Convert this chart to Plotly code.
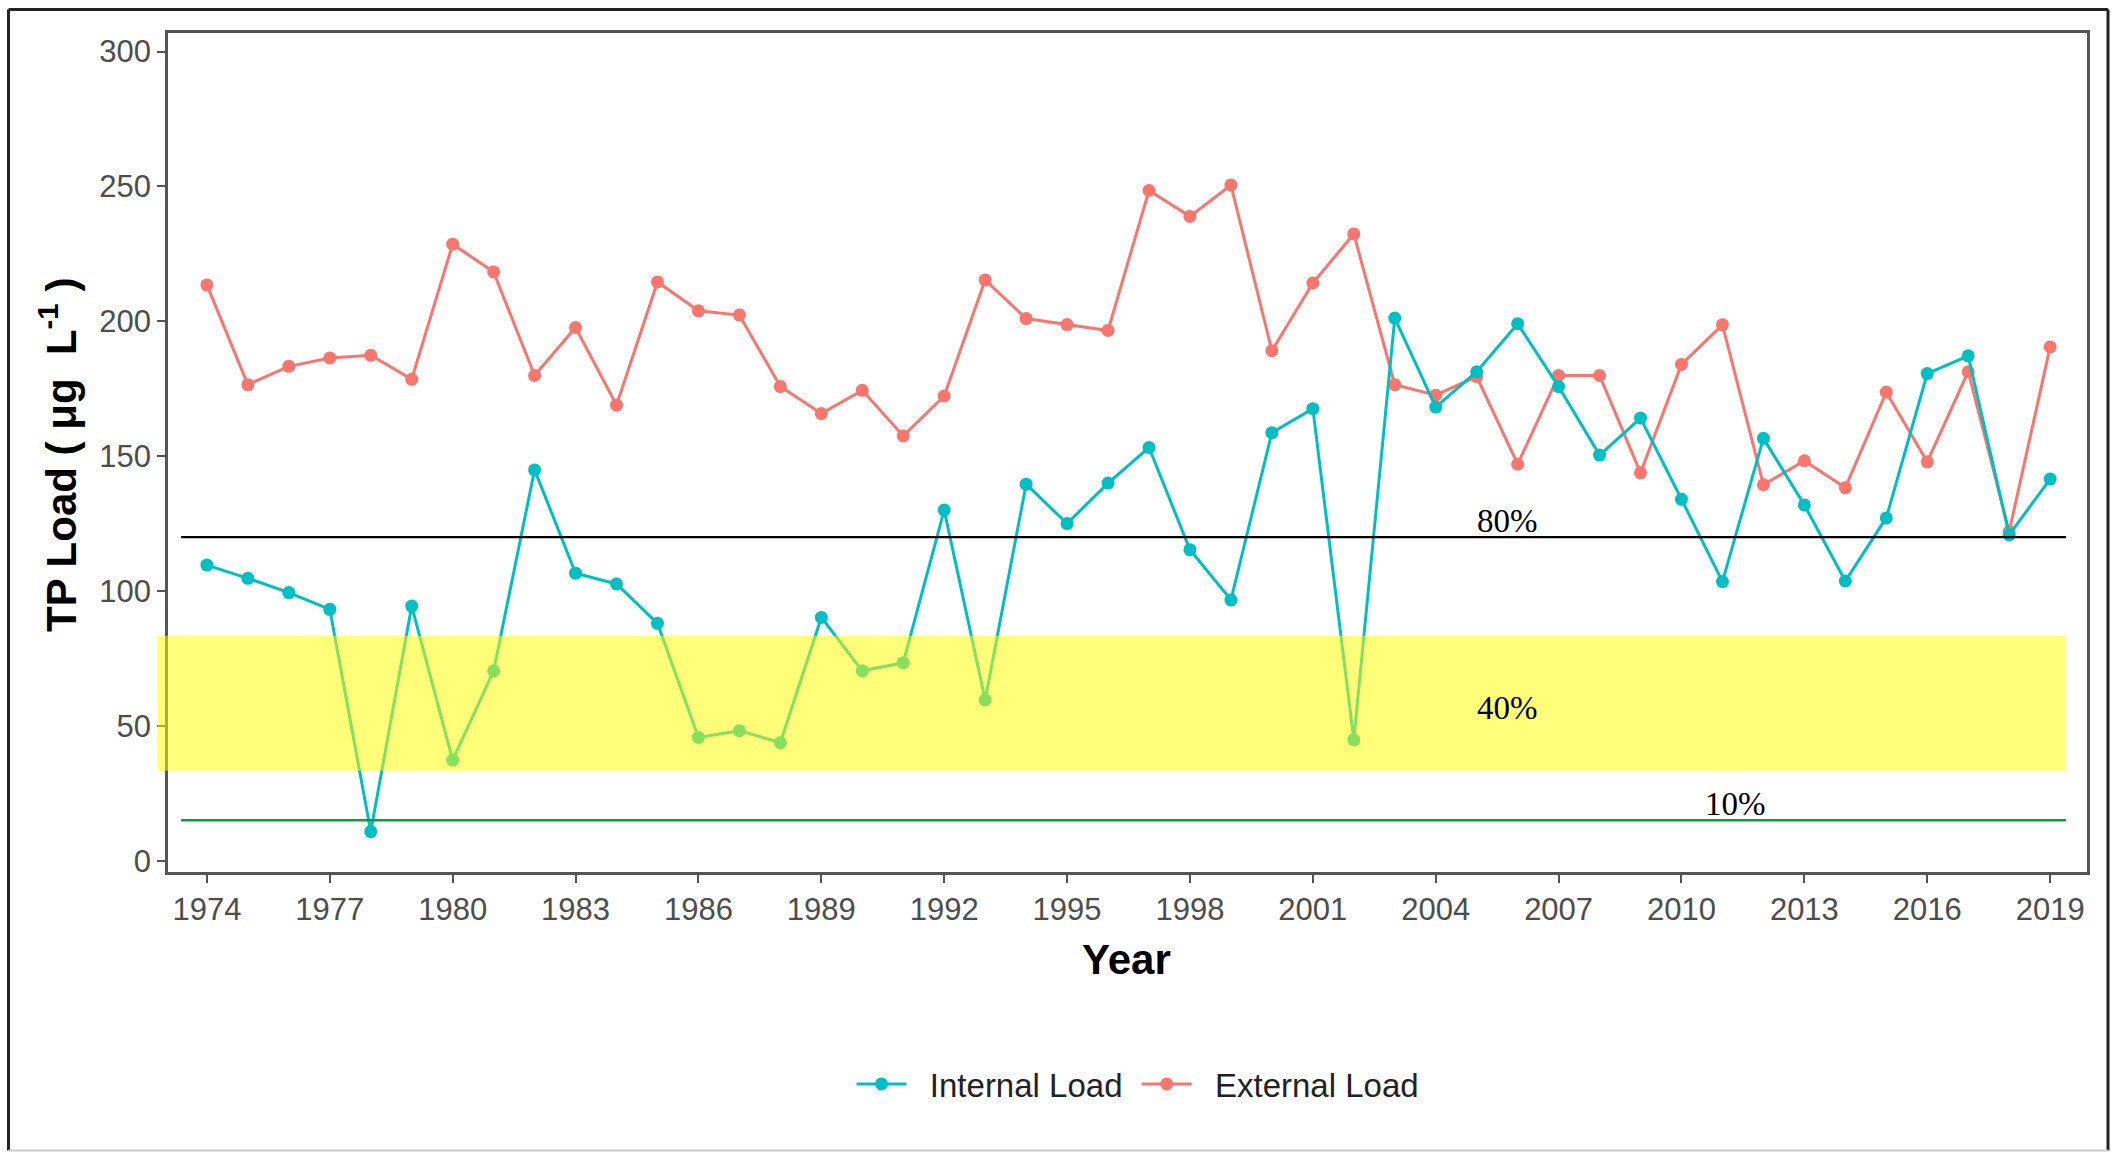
import plotly.graph_objects as go

# ---------------- data ----------------
years = [1974, 1975, 1976, 1977, 1978, 1979, 1980, 1981, 1982, 1983,
         1984, 1985, 1986, 1987, 1988, 1989, 1990, 1991, 1992, 1993,
         1994, 1995, 1996, 1997, 1998, 1999, 2000, 2001, 2002, 2003,
         2004, 2005, 2006, 2007, 2008, 2009, 2010, 2011, 2012, 2013,
         2014, 2015, 2016, 2017, 2018, 2019]

internal_load = [109.6, 104.7, 99.4, 93.2, 10.8, 94.4, 37.3, 70.4, 144.9, 106.6,
                 102.6, 88.0, 45.7, 48.2, 43.8, 90.2, 70.4, 73.4, 130.0, 59.6,
                 139.6, 125.0, 140.0, 153.2, 115.3, 96.7, 158.7, 167.6, 44.8, 201.2,
                 168.2, 181.3, 199.1, 175.8, 150.4, 164.1, 134.0, 103.5, 156.6, 131.9,
                 103.7, 127.1, 180.6, 187.2, 120.8, 141.5]

external_load = [213.5, 176.5, 183.3, 186.4, 187.4, 178.5, 228.6, 218.3, 179.9, 197.7,
                 168.9, 214.6, 203.9, 202.3, 175.8, 165.8, 174.4, 157.5, 172.3, 215.3,
                 201.0, 198.8, 196.6, 248.5, 238.9, 250.5, 189.1, 214.2, 232.4, 176.5,
                 172.6, 179.5, 147.0, 179.9, 179.9, 143.8, 184.0, 198.7, 139.4, 148.3,
                 138.3, 173.7, 147.9, 181.3, 122.0, 190.5]

series_names = ["Internal Load", "External Load"]

x_tick_vals = [1974, 1977, 1980, 1983, 1986, 1989, 1992, 1995, 1998, 2001,
               2004, 2007, 2010, 2013, 2016, 2019]
y_tick_vals = [0, 50, 100, 150, 200, 250, 300]

# reference levels
level_80 = 120
level_10 = 15
band_40_low = 33.3
band_40_high = 83.4
percent_labels = ["80%", "40%", "10%"]
percent_label_x = [2005.74, 2005.74, 2011.33]
percent_label_y = [125.8, 56.5, 21.2]

# ---------------- figure ----------------
W, H = 2118, 1152
L, R, T, B = 168, 31, 33, 280
X_RANGE = [1973.05, 2019.9]
Y_RANGE = [-4.2, 306.9]

TEAL = "#00BFC4"
RED = "#F8766D"
NB = "\u00a0"

fig = go.Figure()

fig.add_trace(go.Scatter(
    x=years, y=external_load, mode="lines+markers", name=NB * 2 + series_names[1],
    line=dict(color=RED, width=3), marker=dict(color=RED, size=13),
    legendrank=2,
))
fig.add_trace(go.Scatter(
    x=years, y=internal_load, mode="lines+markers", name=NB * 2 + series_names[0] + NB,
    line=dict(color=TEAL, width=3), marker=dict(color=TEAL, size=13),
    legendrank=1,
))

def to_paper_x(v):
    return (v - X_RANGE[0]) / (X_RANGE[1] - X_RANGE[0])

line_x0, line_x1 = 1973.37, 2019.39
band_x0 = 1972.79

shapes = [
    # yellow 40% band (drawn above the lines, semi-transparent)
    dict(type="rect", xref="paper", yref="y",
         x0=to_paper_x(band_x0), x1=to_paper_x(line_x1),
         y0=band_40_low, y1=band_40_high,
         fillcolor="rgba(255,255,0,0.52)", line=dict(width=0), layer="above"),
    # 80% line
    dict(type="line", xref="x", yref="y", x0=line_x0, x1=line_x1,
         y0=level_80, y1=level_80, line=dict(color="black", width=2.2), layer="above"),
    # 10% line
    dict(type="line", xref="x", yref="y", x0=line_x0, x1=line_x1,
         y0=level_10, y1=level_10, line=dict(color="#109C3A", width=2.6), layer="above"),
]

# outer frame around the whole image (paper coordinates computed from pixels)
def px_to_paper_x(px):
    return (px - L) / (W - L - R)

def px_to_paper_y(py):
    return (H - B - py) / (H - T - B)

fx0, fx1, fy0, fy1 = 8.5, 2108, 9.5, 1150.5
shapes += [
    dict(type="line", xref="paper", yref="paper", x0=px_to_paper_x(fx0), x1=px_to_paper_x(fx1),
         y0=px_to_paper_y(fy0), y1=px_to_paper_y(fy0), line=dict(color="#222222", width=3)),
    dict(type="line", xref="paper", yref="paper", x0=px_to_paper_x(fx0), x1=px_to_paper_x(fx0),
         y0=px_to_paper_y(fy0), y1=px_to_paper_y(fy1), line=dict(color="#222222", width=3)),
    dict(type="line", xref="paper", yref="paper", x0=px_to_paper_x(fx1), x1=px_to_paper_x(fx1),
         y0=px_to_paper_y(fy0), y1=px_to_paper_y(fy1), line=dict(color="#222222", width=3)),
    dict(type="line", xref="paper", yref="paper", x0=px_to_paper_x(fx0), x1=px_to_paper_x(fx1),
         y0=px_to_paper_y(fy1), y1=px_to_paper_y(fy1), line=dict(color="#CCCCCC", width=2)),
]

annotations = []
for txt, ax_, ay_ in zip(percent_labels, percent_label_x, percent_label_y):
    annotations.append(dict(
        x=ax_, y=ay_, xref="x", yref="y", text=txt, showarrow=False,
        font=dict(family="Times New Roman, Liberation Serif, serif", size=33, color="black"),
        xanchor="center", yanchor="middle",
    ))

# axis titles
annotations.append(dict(
    x=px_to_paper_x(1126), y=px_to_paper_y(960), xref="paper", yref="paper",
    text="<b>Year</b>", showarrow=False,
    font=dict(family="Arial, Liberation Sans, sans-serif", size=42, color="black"),
    xanchor="center", yanchor="middle",
))
annotations.append(dict(
    x=px_to_paper_x(58), y=px_to_paper_y(455), xref="paper", yref="paper",
    text="<b>TP Load ( μg  L<sup>-1</sup> )</b>", showarrow=False, textangle=-90,
    font=dict(family="Arial, Liberation Sans, sans-serif", size=42, color="black"),
    xanchor="center", yanchor="middle",
))

axis_common = dict(
    showline=True, mirror=True, linecolor="#555555", linewidth=2.5,
    ticks="outside", ticklen=8, tickwidth=2, tickcolor="#555555",
    showgrid=False, zeroline=False,
    tickfont=dict(family="Arial, Liberation Sans, sans-serif", size=31, color="#4D4D4D"),
)

fig.update_layout(
    width=W, height=H,
    margin=dict(l=L, r=R, t=T, b=B, pad=0),
    paper_bgcolor="white", plot_bgcolor="white",
    xaxis=dict(range=X_RANGE, tickmode="array", tickvals=x_tick_vals,
               ticktext=[str(v) for v in x_tick_vals], **axis_common),
    yaxis=dict(range=Y_RANGE, tickmode="array", tickvals=y_tick_vals,
               ticktext=[str(v) for v in y_tick_vals], **axis_common),
    showlegend=True,
    legend=dict(orientation="h", x=px_to_paper_x(1138), y=px_to_paper_y(1084),
                xanchor="center", yanchor="middle",
                font=dict(family="Arial, Liberation Sans, sans-serif", size=33, color="#222222"),
                bgcolor="rgba(0,0,0,0)", itemwidth=50),
    shapes=shapes,
    annotations=annotations,
)

fig.write_html("out.html", config={"displayModeBar": False},
               post_script="document.body.style.margin='0px';document.body.style.overflow='hidden';")
